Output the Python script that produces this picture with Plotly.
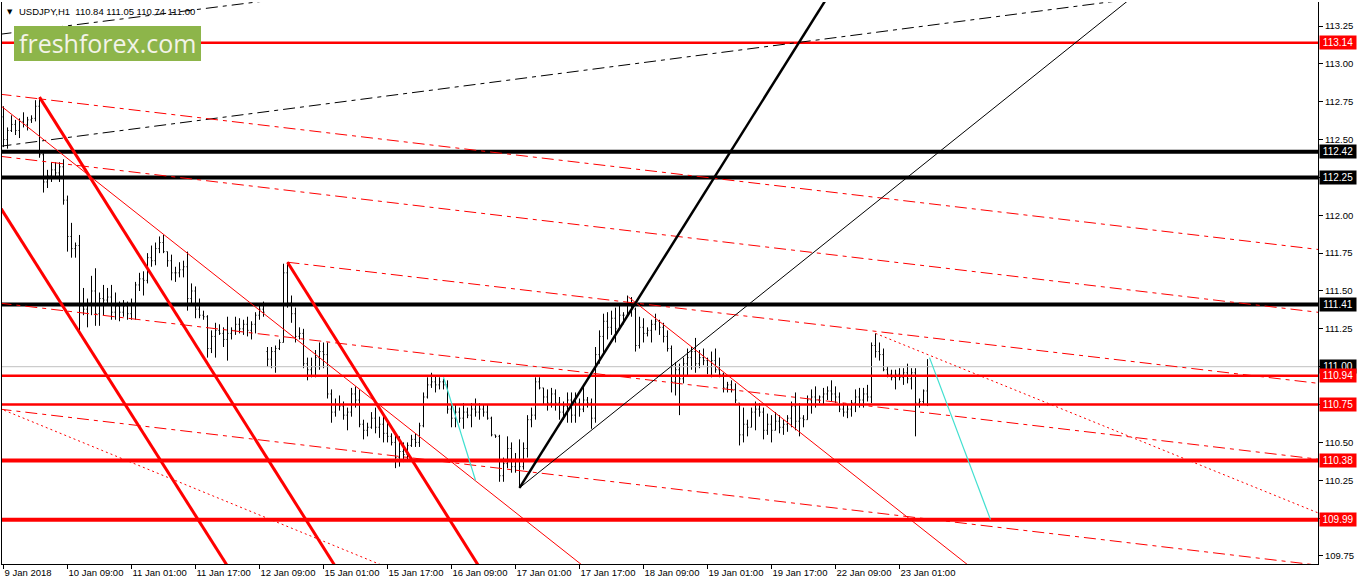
import plotly.graph_objects as go

# ---------------- data ----------------
bar_open = [112.65,112.50,112.56,112.60,112.56,112.62,112.60,112.63,112.64,112.72,
112.40,112.22,112.26,112.30,112.28,112.32,112.10,111.86,111.78,111.80,
111.40,111.38,111.42,111.50,111.35,111.45,111.44,111.46,111.36,111.40,
111.36,111.40,111.35,111.42,111.54,111.58,111.57,111.72,111.70,111.78,
111.82,111.76,111.70,111.62,111.62,111.64,111.66,111.45,111.50,111.38,
111.34,111.33,111.12,111.20,111.24,111.22,111.18,111.22,111.24,111.28,
111.25,111.28,111.24,111.28,111.34,111.38,111.10,111.05,111.10,111.12,
111.16,111.62,111.42,111.35,111.20,111.22,111.02,110.98,111.00,111.06,
111.10,111.08,110.82,110.70,110.75,110.74,110.68,110.70,110.82,110.78,
110.62,110.58,110.60,110.66,110.60,110.62,110.56,110.54,110.50,110.40,
110.44,110.42,110.48,110.52,110.50,110.61,110.80,110.88,110.90,110.88,
110.90,110.88,110.72,110.66,110.70,110.66,110.70,110.68,110.72,110.70,
110.72,110.70,110.66,110.55,110.54,110.28,110.36,110.46,110.34,110.38,
110.34,110.46,110.65,110.68,110.90,110.86,110.80,110.76,110.82,110.76,
110.70,110.74,110.78,110.68,110.76,110.72,110.78,110.76,110.66,111.08,
111.20,111.30,111.26,111.32,111.25,111.34,111.34,111.42,111.38,111.14,
111.26,111.22,111.24,111.28,111.30,111.26,111.20,111.12,110.90,110.98,
110.92,111.02,111.06,111.10,111.02,111.06,111.04,111.00,111.04,110.98,
110.95,110.86,110.88,110.85,110.76,110.55,110.62,110.60,110.70,110.72,
110.70,110.58,110.62,110.58,110.64,110.60,110.62,110.66,110.74,110.64,
110.66,110.65,110.78,110.80,110.78,110.80,110.82,110.84,110.82,110.80,
110.72,110.70,110.72,110.76,110.80,110.78,110.82,110.80,111.14,111.10,
111.08,110.98,110.95,110.93,110.95,110.93,110.96,110.92,110.96,110.76,
110.77,110.84]
bar_high = [112.72,112.58,112.66,112.63,112.64,112.68,112.65,112.66,112.76,112.78,
112.41,112.30,112.35,112.35,112.35,112.37,112.13,111.95,111.82,111.87,
111.52,111.45,111.60,111.65,111.49,111.54,111.52,111.54,111.49,111.43,
111.44,111.43,111.45,111.56,111.62,111.63,111.75,111.80,111.82,111.86,
111.87,111.76,111.74,111.66,111.69,111.70,111.76,111.55,111.53,111.45,
111.37,111.34,111.24,111.29,111.28,111.26,111.33,111.26,111.33,111.32,
111.31,111.33,111.30,111.36,111.41,111.43,111.13,111.13,111.14,111.18,
111.68,111.69,111.47,111.39,111.26,111.25,111.06,111.06,111.11,111.16,
111.16,111.16,110.85,110.79,110.81,110.77,110.73,110.86,110.87,110.85,
110.65,110.63,110.70,110.73,110.67,110.68,110.65,110.56,110.55,110.54,
110.50,110.50,110.55,110.56,110.63,110.83,110.93,110.96,110.94,110.93,
110.92,110.91,110.76,110.75,110.73,110.76,110.73,110.76,110.79,110.76,
110.75,110.75,110.67,110.55,110.55,110.40,110.54,110.50,110.43,110.52,
110.50,110.68,110.73,110.93,110.93,110.86,110.85,110.86,110.85,110.80,
110.77,110.83,110.83,110.83,110.79,110.88,110.80,110.79,111.13,111.24,
111.35,111.36,111.37,111.39,111.41,111.36,111.47,111.46,111.39,111.33,
111.32,111.26,111.31,111.35,111.31,111.29,111.24,111.14,111.03,111.02,
111.06,111.12,111.13,111.19,111.11,111.12,111.06,111.10,111.12,111.06,
110.96,110.90,110.91,110.89,110.76,110.73,110.65,110.73,110.77,110.76,
110.73,110.69,110.68,110.70,110.68,110.65,110.68,110.77,110.83,110.76,
110.68,110.81,110.85,110.87,110.81,110.86,110.87,110.91,110.87,110.83,
110.76,110.75,110.78,110.85,110.86,110.86,110.88,111.16,111.22,111.16,
111.12,111.00,110.98,110.98,110.99,110.99,111.02,110.99,110.99,110.79,
110.85,111.05]
bar_low = [112.45,112.44,112.55,112.53,112.51,112.58,112.56,112.61,112.62,112.38,
112.15,112.18,112.22,112.25,112.22,112.07,111.76,111.72,111.72,111.24,
111.34,111.26,111.34,111.27,111.27,111.34,111.41,111.31,111.31,111.30,
111.33,111.31,111.31,111.31,111.50,111.47,111.55,111.66,111.67,111.75,
111.75,111.66,111.57,111.56,111.59,111.59,111.37,111.42,111.32,111.32,
111.31,111.06,111.09,111.06,111.21,111.13,111.04,111.18,111.21,111.22,
111.21,111.20,111.18,111.22,111.31,111.33,111.00,110.99,110.96,111.11,
111.16,111.39,111.29,111.16,111.18,110.99,110.91,110.93,110.93,110.98,
110.99,110.79,110.63,110.67,110.71,110.65,110.58,110.67,110.73,110.60,
110.52,110.54,110.59,110.56,110.53,110.50,110.50,110.48,110.33,110.34,
110.37,110.38,110.47,110.47,110.47,110.60,110.79,110.86,110.83,110.85,
110.85,110.69,110.60,110.60,110.63,110.59,110.66,110.60,110.67,110.65,
110.67,110.65,110.54,110.53,110.24,110.24,110.33,110.30,110.30,110.20,
110.32,110.40,110.60,110.65,110.85,110.75,110.71,110.73,110.71,110.65,
110.65,110.63,110.63,110.63,110.67,110.70,110.73,110.59,110.63,111.02,
111.09,111.18,111.21,111.16,111.24,111.28,111.33,111.33,111.10,111.12,
111.16,111.20,111.16,111.24,111.21,111.16,111.10,110.83,110.81,110.68,
110.89,110.94,110.98,110.96,110.99,111.01,110.95,110.93,110.96,110.93,
110.83,110.83,110.83,110.76,110.48,110.50,110.54,110.60,110.58,110.67,
110.52,110.55,110.50,110.58,110.56,110.55,110.57,110.60,110.58,110.54,
110.60,110.65,110.69,110.73,110.76,110.75,110.78,110.77,110.76,110.70,
110.67,110.66,110.67,110.70,110.73,110.73,110.77,110.76,111.06,111.04,
110.97,110.93,110.91,110.85,110.91,110.88,110.89,110.85,110.54,110.73,
110.75,110.74]
bar_close = [112.50,112.56,112.60,112.56,112.62,112.60,112.63,112.64,112.72,112.40,
112.22,112.26,112.30,112.28,112.32,112.10,111.86,111.78,111.80,111.40,
111.38,111.42,111.50,111.35,111.45,111.44,111.46,111.36,111.40,111.36,
111.40,111.35,111.42,111.54,111.58,111.57,111.72,111.70,111.78,111.82,
111.76,111.70,111.62,111.62,111.64,111.66,111.45,111.50,111.38,111.34,
111.33,111.12,111.20,111.24,111.22,111.18,111.22,111.24,111.28,111.25,
111.28,111.24,111.28,111.34,111.38,111.36,111.05,111.10,111.12,111.16,
111.62,111.42,111.35,111.20,111.22,111.02,110.98,111.00,111.06,111.10,
111.08,110.82,110.70,110.75,110.74,110.68,110.70,110.82,110.78,110.62,
110.58,110.60,110.66,110.60,110.62,110.56,110.54,110.50,110.40,110.44,
110.42,110.48,110.52,110.50,110.61,110.80,110.88,110.90,110.88,110.90,
110.88,110.72,110.66,110.70,110.66,110.70,110.68,110.72,110.70,110.72,
110.70,110.66,110.55,110.54,110.28,110.36,110.46,110.34,110.38,110.34,
110.46,110.65,110.68,110.90,110.86,110.80,110.76,110.82,110.76,110.70,
110.74,110.78,110.68,110.76,110.72,110.78,110.76,110.66,111.08,111.20,
111.30,111.26,111.32,111.25,111.34,111.34,111.42,111.38,111.14,111.26,
111.22,111.24,111.28,111.30,111.26,111.20,111.12,110.90,110.98,110.92,
111.02,111.06,111.10,111.02,111.06,111.04,111.00,111.04,110.98,110.95,
110.86,110.88,110.85,110.78,110.55,110.62,110.60,110.70,110.72,110.70,
110.58,110.62,110.58,110.64,110.60,110.62,110.66,110.74,110.64,110.66,
110.65,110.78,110.80,110.78,110.80,110.82,110.84,110.82,110.80,110.72,
110.70,110.72,110.76,110.80,110.78,110.82,110.80,111.14,111.10,111.08,
110.98,110.95,110.93,110.95,110.93,110.96,110.92,110.96,110.76,110.77,
110.84,111.00]

date_tick_bars = [0, 16, 32, 48, 64, 80, 96, 112, 128, 144, 160, 176, 192, 208, 224]
date_tick_labels = ["9 Jan 2018", "10 Jan 09:00", "11 Jan 01:00", "11 Jan 17:00",
                    "12 Jan 09:00", "15 Jan 01:00", "15 Jan 17:00", "16 Jan 09:00",
                    "17 Jan 01:00", "17 Jan 17:00", "18 Jan 09:00", "19 Jan 01:00",
                    "19 Jan 17:00", "22 Jan 09:00", "23 Jan 01:00"]
price_ticks = [109.75, 110.00, 110.25, 110.50, 110.75, 111.00, 111.25, 111.50,
               111.75, 112.00, 112.25, 112.50, 112.75, 113.00, 113.25]

# horizontal levels
level_prices = [113.14, 112.42, 112.25, 111.41, 111.00, 110.94, 110.75, 110.38, 109.99]
level_kinds = ["red", "black", "black", "black", "bid", "red", "red", "redthick", "redthick"]

# trend lines: (bar index, price) anchors
thick_black_bars, thick_black_prices = [129, 205.5], [110.20, 113.42]
thin_black_bars, thin_black_prices = [129, 281.25], [110.20, 113.42]
black_dd1_bars, black_dd1_prices = [-1, 279.75], [112.455, 113.42]
black_dd2_bars, black_dd2_prices = [-1, 66.75], [113.195, 113.42]
red_steep1_bars, red_steep1_prices = [-1, 57.4], [112.06, 109.625]
red_steep2_bars, red_steep2_prices = [9, 84.3], [112.78, 109.625]
red_steep3_bars, red_steep3_prices = [71, 120.2], [111.69, 109.625]
red_thin1_bars, red_thin1_prices = [-1, 147.75], [112.73, 109.625]
red_thin2_bars, red_thin2_prices = [156.25, 244.25], [111.46, 109.625]
red_dd1_bars, red_dd1_prices = [-1, 330], [112.80, 111.77]
red_dd2_bars, red_dd2_prices = [-1, 330], [112.39, 111.355]
red_dd3_bars, red_dd3_prices = [71, 330], [111.69, 110.886]
red_dd4_bars, red_dd4_prices = [-1, 330], [111.42, 110.385]
red_dd5_bars, red_dd5_prices = [-1, 330], [110.72, 109.685]
red_dot1_bars, red_dot1_prices = [-1, 100.5], [110.725, 109.625]
red_dot2_bars, red_dot2_prices = [218, 330], [111.22, 110.02]
cyan1_bars, cyan1_prices = [110, 118], [110.93, 110.25]
cyan2_bars, cyan2_prices = [231.5, 246.75], [111.06, 109.99]

title_text = "USDJPY,H1\u00a0\u00a0110.84 111.05 110.74 111.00"
logo_text = "freshforex.com"

# ---------------- figure ----------------
X_RANGE = [-0.375, 328.625]
Y_RANGE = [109.697, 113.4085]
FONT = "Liberation Sans, Arial, sans-serif"
RED = "#ff0000"
DASHDOT = "12px,5px,4px,5px"
DOT = "2px,3px"

fig = go.Figure()
fig.add_trace(go.Ohlc(
    x=list(range(len(bar_open))), open=bar_open, high=bar_high, low=bar_low, close=bar_close,
    increasing=dict(line=dict(color="black", width=1)),
    decreasing=dict(line=dict(color="black", width=1)),
    tickwidth=0.25, hoverinfo="skip", showlegend=False))

def add_line(xs, ys, color, width, dash="solid"):
    fig.add_trace(go.Scatter(x=xs, y=ys, mode="lines", hoverinfo="skip", showlegend=False,
                             line=dict(color=color, width=width, dash=dash)))

level_style = {"red": (RED, 2.5), "black": ("black", 4), "bid": ("#c0c0c0", 1),
               "redthick": (RED, 4)}
for p, k in zip(level_prices, level_kinds):
    c, w = level_style[k]
    add_line([X_RANGE[0] - 1, X_RANGE[1] + 1], [p, p], c, w)

add_line(black_dd1_bars, black_dd1_prices, "black", 1, DASHDOT)
add_line(black_dd2_bars, black_dd2_prices, "black", 1, DASHDOT)
add_line(red_dd1_bars, red_dd1_prices, RED, 1, DASHDOT)
add_line(red_dd2_bars, red_dd2_prices, RED, 1, DASHDOT)
add_line(red_dd3_bars, red_dd3_prices, RED, 1, DASHDOT)
add_line(red_dd4_bars, red_dd4_prices, RED, 1, DASHDOT)
add_line(red_dd5_bars, red_dd5_prices, RED, 1, DASHDOT)
add_line(red_dot1_bars, red_dot1_prices, RED, 1, DOT)
add_line(red_dot2_bars, red_dot2_prices, RED, 1, DOT)
add_line(red_thin1_bars, red_thin1_prices, RED, 1)
add_line(red_thin2_bars, red_thin2_prices, RED, 1)
add_line(red_steep1_bars, red_steep1_prices, RED, 3)
add_line(red_steep2_bars, red_steep2_prices, RED, 3)
add_line(red_steep3_bars, red_steep3_prices, RED, 3)
add_line(thin_black_bars, thin_black_prices, "black", 1)
add_line(thick_black_bars, thick_black_prices, "black", 2.5)
add_line(cyan1_bars, cyan1_prices, "#40e0d0", 1.2)
add_line(cyan2_bars, cyan2_prices, "#40e0d0", 1.2)

annotations = []
label_bg = {"red": RED, "black": "black", "bid": "black", "redthick": RED}
for p, k in zip(level_prices, level_kinds):
    annotations.append(dict(x=1, xref="paper", xanchor="left", xshift=1, y=p, yref="y",
                            yanchor="middle", text=f"{p:.2f}", showarrow=False,
                            bgcolor=label_bg[k], width=34, height=11, borderpad=1,
                            font=dict(family=FONT, size=10, color="white")))
annotations.append(dict(x=0, xref="paper", xanchor="left", xshift=15, y=1, yref="paper",
                        yanchor="top", yshift=-2, text=title_text, showarrow=False,
                        font=dict(family=FONT, size=9.5, color="black")))
annotations.append(dict(x=0, xref="paper", xanchor="left", xshift=3, y=1, yref="paper",
                        yanchor="top", yshift=-4, text="\u25bc", showarrow=False,
                        font=dict(family="DejaVu Sans", size=7, color="black")))
annotations.append(dict(x=105.5 / 1316, xref="paper", xanchor="center",
                        y=1 - 41.5 / 562, yref="paper", yanchor="middle",
                        text=logo_text, showarrow=False,
                        font=dict(family="Open Sans", size=25, color="#f3f3e8")))

shapes = [dict(type="rect", xref="paper", yref="paper", layer="above",
               x0=12 / 1316, x1=199 / 1316, y0=1 - 59 / 562, y1=1 - 24 / 562,
               fillcolor="#8db54a", line=dict(width=0))]

fig.update_layout(
    width=1358, height=584, margin=dict(l=2, r=40, t=2, b=20),
    paper_bgcolor="white", plot_bgcolor="white", showlegend=False,
    annotations=annotations, shapes=shapes,
    xaxis=dict(range=X_RANGE, tickvals=date_tick_bars, ticktext=date_tick_labels,
               ticks="outside", ticklen=4, tickcolor="black", showgrid=False,
               zeroline=False, showline=True, linecolor="black", linewidth=1,
               ticklabelposition="outside right", rangeslider=dict(visible=False),
               tickfont=dict(family=FONT, size=9.5, color="black"), fixedrange=True),
    yaxis=dict(range=Y_RANGE, side="right", tickvals=price_ticks, tickformat=".2f",
               ticks="outside", ticklen=4, tickcolor="black", showgrid=False,
               zeroline=False, showline=True, mirror=True, linecolor="black", linewidth=1,
               tickfont=dict(family=FONT, size=9.5, color="black"), fixedrange=True),
)

fig.write_html("out.html", config={"displayModeBar": False},
               post_script="document.body.style.margin='0';document.body.style.overflow='hidden';")
